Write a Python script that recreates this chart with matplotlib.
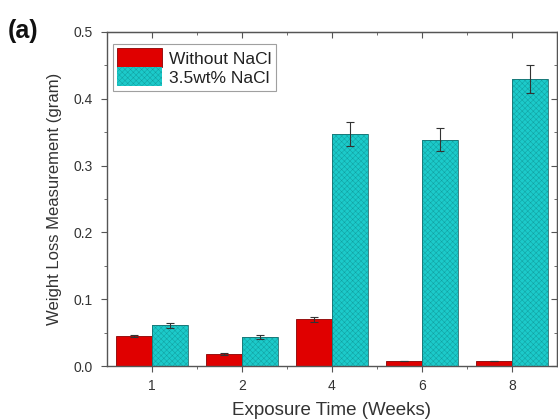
import matplotlib
matplotlib.use("Agg")
import matplotlib.pyplot as plt
from matplotlib.ticker import MultipleLocator, FixedLocator, FormatStrFormatter, NullFormatter
import numpy as np

plt.rcParams["font.family"] = ["Liberation Sans", "DejaVu Sans"]
plt.rcParams["hatch.linewidth"] = 0.35

weeks = ["1", "2", "4", "6", "8"]
without_nacl = [0.045, 0.018, 0.070, 0.007, 0.007]
without_err = [0.002, 0.001, 0.004, 0.0, 0.0]
with_nacl = [0.061, 0.043, 0.347, 0.339, 0.430]
with_err = [0.004, 0.003, 0.018, 0.017, 0.021]

red = "#e00000"
cyan = "#1ccaca"
axis_col = "#555555"

fig = plt.figure(figsize=(5.58, 4.19), dpi=100)
ax = fig.add_axes([107 / 558, 1 - 366 / 419, 450 / 558, 334 / 419])

x = np.arange(len(weeks))
w = 0.4
ekw = dict(ecolor="#333333", elinewidth=0.8, capsize=3, capthick=0.8)
ax.bar(x - w / 2, without_nacl, w, yerr=without_err, color=red,
       edgecolor="#8a0000", linewidth=0.6, label="Without NaCl", error_kw=ekw)
# hatched fill first, then the outline on top
ax.bar(x + w / 2, with_nacl, w, color=cyan, edgecolor="#12a0a0",
       linewidth=0, hatch="xxxxxx", label="3.5wt% NaCl")
ax.bar(x + w / 2, with_nacl, w, yerr=with_err, fill=False,
       edgecolor="#1a6f6f", linewidth=0.6, error_kw=ekw)

ax.set_xlim(-0.5, 4.5)
ax.set_ylim(0, 0.5)
ax.set_xticks(x)
ax.set_xticklabels(weeks)
ax.xaxis.set_minor_locator(FixedLocator(x[:-1] + 0.5))
ax.yaxis.set_major_locator(MultipleLocator(0.1))
ax.yaxis.set_minor_locator(MultipleLocator(0.05))
ax.yaxis.set_major_formatter(FormatStrFormatter("%.1f"))

for s in ax.spines.values():
    s.set_color(axis_col)
    s.set_linewidth(1.0)
ax.tick_params(which="both", direction="out", colors=axis_col,
               labelcolor="#333333", labelsize=10)
ax.tick_params(which="major", length=4.5)
ax.tick_params(which="minor", length=2.5)
ax.tick_params(axis="y", which="major", pad=6)
ax.tick_params(axis="x", which="major", pad=5)

# inward ticks on the top and right edges
top = ax.secondary_xaxis("top")
top.set_xticks(x)
top.xaxis.set_minor_locator(FixedLocator(x[:-1] + 0.5))
top.xaxis.set_major_formatter(NullFormatter())
right = ax.secondary_yaxis("right")
right.yaxis.set_major_locator(MultipleLocator(0.1))
right.yaxis.set_minor_locator(MultipleLocator(0.05))
right.yaxis.set_major_formatter(NullFormatter())
for sec in (top, right):
    sec.tick_params(which="both", direction="in", colors=axis_col)
    sec.tick_params(which="major", length=4.5)
    sec.tick_params(which="minor", length=2.5)
    for s in sec.spines.values():
        s.set_color(axis_col)

ax.set_xlabel("Exposure Time (Weeks)", fontsize=13.5, color="#333333", labelpad=6)
ax.set_ylabel("Weight Loss Measurement (gram)", fontsize=12, color="#333333", labelpad=8)

leg = ax.legend(loc="upper left", bbox_to_anchor=(6 / 450, 1 - 12 / 334),
                borderaxespad=0, fontsize=12.5, frameon=True, fancybox=False,
                handlelength=2.6, handleheight=1.3,
                borderpad=0.25, labelspacing=0.0, handletextpad=0.4)
leg.get_frame().set_edgecolor("#888888")
leg.get_frame().set_linewidth(0.8)
for t in leg.get_texts():
    t.set_color("#222222")

fig.text(8 / 558, 1 - 31 / 419, "(a)", fontsize=18, fontweight="bold",
         color="#111111", va="center", ha="left")

fig.savefig("out.png", dpi=100)
